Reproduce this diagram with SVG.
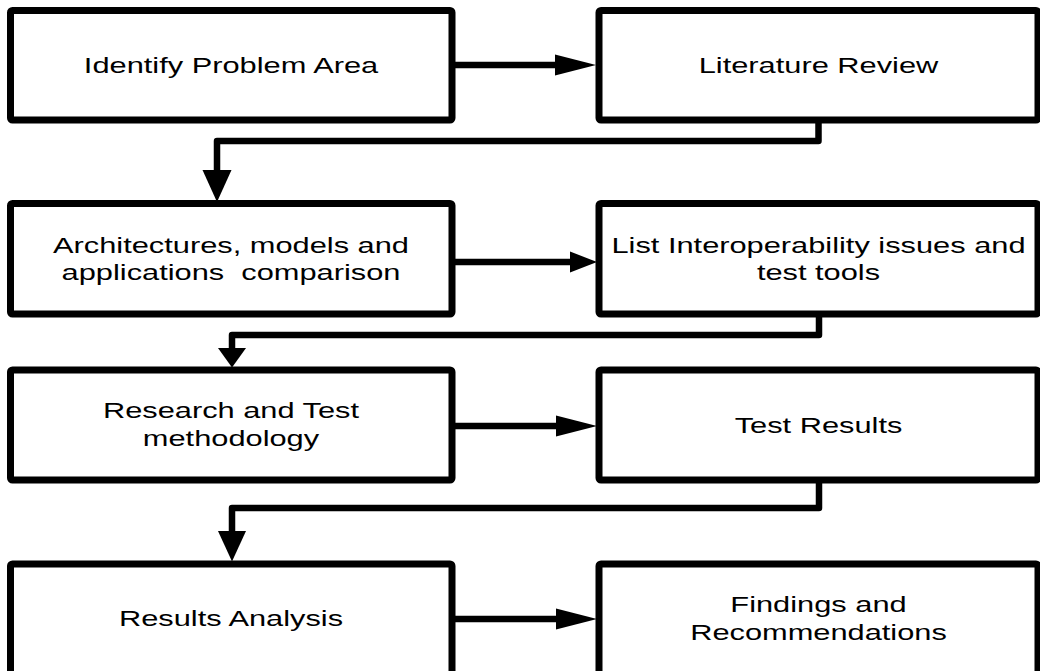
<svg xmlns="http://www.w3.org/2000/svg" width="1040" height="671" viewBox="0 0 1040 671">
  <style>
    .box { fill: #ffffff; stroke: #000000; stroke-width: 7; stroke-linejoin: round; }
    .lbl { font-family: "Liberation Sans", Arial, sans-serif; font-size: 22px; fill: #000000; text-anchor: middle; }
    .wire { fill: none; stroke: #000000; stroke-width: 6.5; stroke-linejoin: round; }
    .head { fill: #000000; stroke: none; }
  </style>
  <rect width="1040" height="671" fill="#ffffff"/>

  <!-- Row 1 -->
  <g id="identify-problem-area">
    <rect class="box" x="10.5" y="10.5" width="441.5" height="109.5" rx="2"/>
    <text class="lbl" transform="translate(231,73) scale(1.4,1)">Identify Problem Area</text>
  </g>
  <g id="literature-review">
    <rect class="box" x="599" y="10.5" width="439" height="109.5" rx="2"/>
    <text class="lbl" transform="translate(818.5,73) scale(1.4,1)">Literature Review</text>
  </g>

  <!-- Row 2 -->
  <g id="architectures-comparison">
    <rect class="box" x="10.5" y="203.5" width="441.5" height="110.5" rx="2"/>
    <text class="lbl" transform="translate(231,253) scale(1.4,1)">Architectures, models and</text>
    <text class="lbl" transform="translate(231,280) scale(1.4,1)" xml:space="preserve">applications  comparison</text>
  </g>
  <g id="interoperability-issues">
    <rect class="box" x="599" y="203.5" width="439" height="110.5" rx="2"/>
    <text class="lbl" transform="translate(818.5,253) scale(1.4,1)">List Interoperability issues and</text>
    <text class="lbl" transform="translate(818.5,280) scale(1.4,1)">test tools</text>
  </g>

  <!-- Row 3 -->
  <g id="research-methodology">
    <rect class="box" x="10.5" y="370" width="441.5" height="110" rx="2"/>
    <text class="lbl" transform="translate(231,418) scale(1.4,1)">Research and Test</text>
    <text class="lbl" transform="translate(231,446) scale(1.4,1)">methodology</text>
  </g>
  <g id="test-results">
    <rect class="box" x="599" y="370" width="439" height="110" rx="2"/>
    <text class="lbl" transform="translate(818.5,433) scale(1.4,1)">Test Results</text>
  </g>

  <!-- Row 4 -->
  <g id="results-analysis">
    <rect class="box" x="10.5" y="564" width="441.5" height="112" rx="2"/>
    <text class="lbl" transform="translate(231,626) scale(1.4,1)">Results Analysis</text>
  </g>
  <g id="findings-recommendations">
    <rect class="box" x="599" y="564" width="439" height="112" rx="2"/>
    <text class="lbl" transform="translate(818.5,612) scale(1.4,1)">Findings and</text>
    <text class="lbl" transform="translate(818.5,640) scale(1.4,1)">Recommendations</text>
  </g>

  <!-- Connectors -->
  <g id="connectors">
    <!-- horizontal links, left box to right box -->
    <line class="wire" x1="452" y1="65" x2="556" y2="65"/>
    <polygon class="head" points="555,54.5 596,65 555,75.5"/>
    <line class="wire" x1="452" y1="262" x2="571" y2="262"/>
    <polygon class="head" points="570,251.5 597,262 570,272.5"/>
    <line class="wire" x1="452" y1="426" x2="557" y2="426"/>
    <polygon class="head" points="556,415.5 597,426 556,436.5"/>
    <line class="wire" x1="452" y1="619" x2="557" y2="619"/>
    <polygon class="head" points="556,608.5 597,619 556,629.5"/>

    <!-- elbow links, right box down to next row -->
    <path class="wire" d="M818.5 120 V141 H217 V171"/>
    <polygon class="head" points="202.5,170 231.5,170 217,202"/>
    <path class="wire" d="M819 314 V335 H232 V349"/>
    <polygon class="head" points="218,348 246,348 232,367.5"/>
    <path class="wire" d="M819 480 V508 H232 V532"/>
    <polygon class="head" points="218,531 246,531 232,561.5"/>
  </g>
</svg>
